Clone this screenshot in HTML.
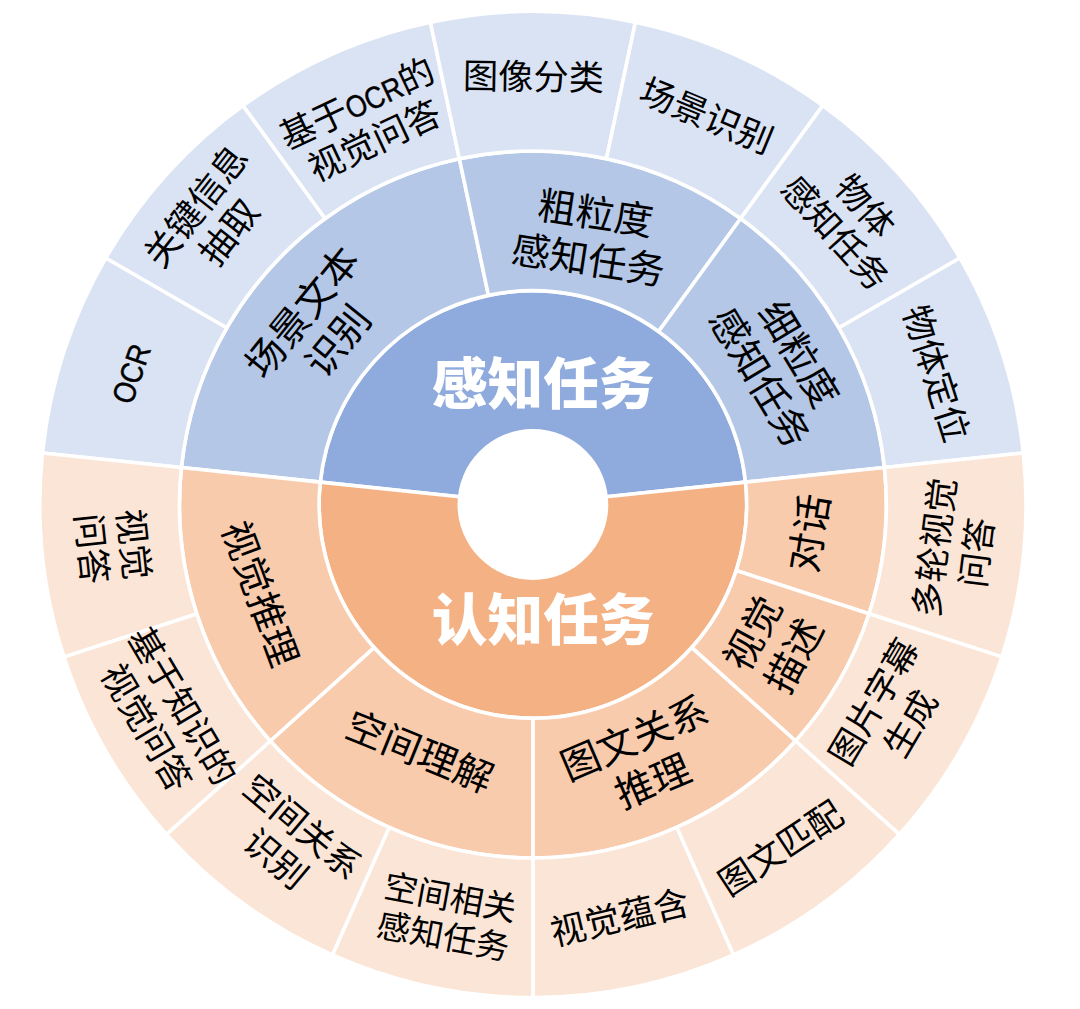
<!DOCTYPE html>
<html lang="zh-CN">
<head>
<meta charset="utf-8">
<title>任务分类</title>
<style>
html,body{margin:0;padding:0;background:#fff;}
body{width:1080px;height:1009px;overflow:hidden;font-family:"Liberation Sans", "Noto Sans CJK SC", sans-serif;}
svg{display:block;}
svg text{font-family:"Liberation Sans", "Noto Sans CJK SC", sans-serif;text-anchor:middle;}
</style>
</head>
<body>
<svg width="1080" height="1009" viewBox="0 0 1080 1009">
<rect width="1080" height="1009" fill="#fff"/>
<g stroke="#fff" stroke-width="3.6" stroke-linejoin="round">
<path d="M320.27 482.15A213.8 213.8 0 0 1 745.53 482.15L603.91 497.04A71.4 71.4 0 0 0 461.89 497.04Z" fill="#8FAADC"/>
<path d="M745.53 482.15A213.8 213.8 0 1 1 320.27 482.15L461.89 497.04A71.4 71.4 0 1 0 603.91 497.04Z" fill="#F4B183"/>
<path d="M181.39 467.55A353.45 353.45 0 0 1 459.41 158.77L488.45 295.37A213.8 213.8 0 0 0 320.27 482.15Z" fill="#B4C7E7"/>
<path d="M459.41 158.77A353.45 353.45 0 0 1 740.65 218.55L658.57 331.53A213.8 213.8 0 0 0 488.45 295.37Z" fill="#B4C7E7"/>
<path d="M740.65 218.55A353.45 353.45 0 0 1 884.41 467.55L745.53 482.15A213.8 213.8 0 0 0 658.57 331.53Z" fill="#B4C7E7"/>
<path d="M884.41 467.55A353.45 353.45 0 0 1 869.05 613.72L736.24 570.57A213.8 213.8 0 0 0 745.53 482.15Z" fill="#F8CBAD"/>
<path d="M869.05 613.72A353.45 353.45 0 0 1 795.56 741.00L691.78 647.56A213.8 213.8 0 0 0 736.24 570.57Z" fill="#F8CBAD"/>
<path d="M795.56 741.00A353.45 353.45 0 0 1 532.90 857.95L532.90 718.30A213.8 213.8 0 0 0 691.78 647.56Z" fill="#F8CBAD"/>
<path d="M532.90 857.95A353.45 353.45 0 0 1 270.24 741.00L374.02 647.56A213.8 213.8 0 0 0 532.90 718.30Z" fill="#F8CBAD"/>
<path d="M270.24 741.00A353.45 353.45 0 0 1 181.39 467.55L320.27 482.15A213.8 213.8 0 0 0 374.02 647.56Z" fill="#F8CBAD"/>
<path d="M42.50 452.96A493.1 493.1 0 0 1 105.86 257.95L226.80 327.78A353.45 353.45 0 0 0 181.39 467.55Z" fill="#DAE3F3"/>
<path d="M105.86 257.95A493.1 493.1 0 0 1 243.06 105.57L325.15 218.55A353.45 353.45 0 0 0 226.80 327.78Z" fill="#DAE3F3"/>
<path d="M243.06 105.57A493.1 493.1 0 0 1 430.38 22.18L459.41 158.77A353.45 353.45 0 0 0 325.15 218.55Z" fill="#DAE3F3"/>
<path d="M430.38 22.18A493.1 493.1 0 0 1 635.42 22.18L606.39 158.77A353.45 353.45 0 0 0 459.41 158.77Z" fill="#DAE3F3"/>
<path d="M635.42 22.18A493.1 493.1 0 0 1 822.74 105.57L740.65 218.55A353.45 353.45 0 0 0 606.39 158.77Z" fill="#DAE3F3"/>
<path d="M822.74 105.57A493.1 493.1 0 0 1 959.94 257.95L839.00 327.78A353.45 353.45 0 0 0 740.65 218.55Z" fill="#DAE3F3"/>
<path d="M959.94 257.95A493.1 493.1 0 0 1 1023.30 452.96L884.41 467.55A353.45 353.45 0 0 0 839.00 327.78Z" fill="#DAE3F3"/>
<path d="M1023.30 452.96A493.1 493.1 0 0 1 1001.87 656.88L869.05 613.72A353.45 353.45 0 0 0 884.41 467.55Z" fill="#FBE5D6"/>
<path d="M1001.87 656.88A493.1 493.1 0 0 1 899.34 834.45L795.56 741.00A353.45 353.45 0 0 0 869.05 613.72Z" fill="#FBE5D6"/>
<path d="M899.34 834.45A493.1 493.1 0 0 1 733.46 954.97L676.66 827.39A353.45 353.45 0 0 0 795.56 741.00Z" fill="#FBE5D6"/>
<path d="M733.46 954.97A493.1 493.1 0 0 1 532.90 997.60L532.90 857.95A353.45 353.45 0 0 0 676.66 827.39Z" fill="#FBE5D6"/>
<path d="M532.90 997.60A493.1 493.1 0 0 1 332.34 954.97L389.14 827.39A353.45 353.45 0 0 0 532.90 857.95Z" fill="#FBE5D6"/>
<path d="M332.34 954.97A493.1 493.1 0 0 1 166.46 834.45L270.24 741.00A353.45 353.45 0 0 0 389.14 827.39Z" fill="#FBE5D6"/>
<path d="M166.46 834.45A493.1 493.1 0 0 1 63.93 656.88L196.75 613.72A353.45 353.45 0 0 0 270.24 741.00Z" fill="#FBE5D6"/>
<path d="M63.93 656.88A493.1 493.1 0 0 1 42.50 452.96L181.39 467.55A353.45 353.45 0 0 0 196.75 613.72Z" fill="#FBE5D6"/>
</g>
<circle cx="532.9" cy="504.5" r="75.4" fill="#fff"/>
<g fill="#000">
<g class="lb" transform="translate(319.55 325.95) rotate(-51.01)" font-size="38.73"><text y="-8.23">场景文本</text><text y="37.66">识别</text></g>
<g class="lb" transform="translate(591.97 235.83) rotate(8.65)" font-size="38.58"><text y="-8.87">粗粒度</text><text y="38.20">感知任务</text></g>
<g class="lb" transform="translate(780.04 365.28) rotate(58.90)" font-size="38.60"><text y="-8.14">细粒度</text><text y="37.47">感知任务</text></g>
<g class="lb" transform="translate(808.42 532.92) rotate(-80.78)" font-size="39.21"><text y="14.90">对话</text></g>
<g class="lb" transform="translate(772.86 644.14) rotate(-61.54)" font-size="38.77"><text y="-8.72">视觉</text><text y="38.19">描述</text></g>
<g class="lb" transform="translate(643.31 758.95) rotate(-23.11)" font-size="38.92"><text y="-8.72">图文关系</text><text y="38.30">推理</text></g>
<g class="lb" transform="translate(419.90 751.07) rotate(22.02)" font-size="38.62"><text y="14.68">空间理解</text></g>
<g class="lb" transform="translate(260.64 593.42) rotate(69.74)" font-size="37.88"><text y="14.39">视觉推理</text></g>
<g class="lb" transform="translate(128.70 372.90) rotate(-71.14)" font-size="35.75"><text transform="translate(0.00 13.58) scale(0.87 1)" font-size="31.10" stroke="#000" stroke-width="0.45">OCR</text></g>
<g class="lb" transform="translate(211.91 218.65) rotate(-51.87)" font-size="35.72"><text y="-7.52">关键信息</text><text y="34.67">抽取</text></g>
<g class="lb" transform="translate(365.45 121.37) rotate(-25.15)" font-size="35.48"><text x="-47.58" y="-7.13">基于</text><text transform="translate(17.74 -7.13) scale(0.87 1)" font-size="30.87" stroke="#000" stroke-width="0.45">OCR</text><text x="65.32" y="-7.13">的</text><text y="34.10">视觉问答</text></g>
<g class="lb" transform="translate(533.46 76.12) rotate(0.88)" font-size="35.26"><text y="13.40">图像分类</text></g>
<g class="lb" transform="translate(706.74 115.14) rotate(22.56)" font-size="35.06"><text y="13.32">场景识别</text></g>
<g class="lb" transform="translate(850.66 219.02) rotate(47.91)" font-size="34.85"><text y="-6.84">物体</text><text y="33.32">感知任务</text></g>
<g class="lb" transform="translate(936.73 373.09) rotate(72.32)" font-size="35.18"><text y="13.37">物体定位</text></g>
<g class="lb" transform="translate(955.11 549.87) rotate(-82.76)" font-size="35.03"><text y="-7.89">多轮视觉</text><text y="34.51">问答</text></g>
<g class="lb" transform="translate(891.48 712.33) rotate(-59.32)" font-size="34.92"><text y="-8.03">图片字幕</text><text y="34.58">生成</text></g>
<g class="lb" transform="translate(780.18 847.56) rotate(-33.33)" font-size="34.99"><text y="13.30">图文匹配</text></g>
<g class="lb" transform="translate(619.53 916.71) rotate(-13.26)" font-size="35.31"><text y="13.42">视觉蕴含</text></g>
<g class="lb" transform="translate(446.88 916.20) rotate(10.48)" font-size="33.39"><text y="-7.07">空间相关</text><text y="32.45">感知任务</text></g>
<g class="lb" transform="translate(289.56 842.23) rotate(39.94)" font-size="35.14"><text y="-7.53">空间关系</text><text y="34.24">识别</text></g>
<g class="lb" transform="translate(165.05 716.44) rotate(59.37)" font-size="35.22"><text y="-7.64">基于知识的</text><text y="34.41">视觉问答</text></g>
<g class="lb" transform="translate(113.41 546.44) rotate(83.91)" font-size="35.47"><text y="-7.56">视觉</text><text y="34.52">问答</text></g>
</g>
<g font-size="55.7" font-weight="900" fill="#fff"><text class="ct" x="543.2" y="403.67">感知任务</text><text class="ct" x="543.2" y="640.47">认知任务</text></g>
</svg>
</body>
</html>
